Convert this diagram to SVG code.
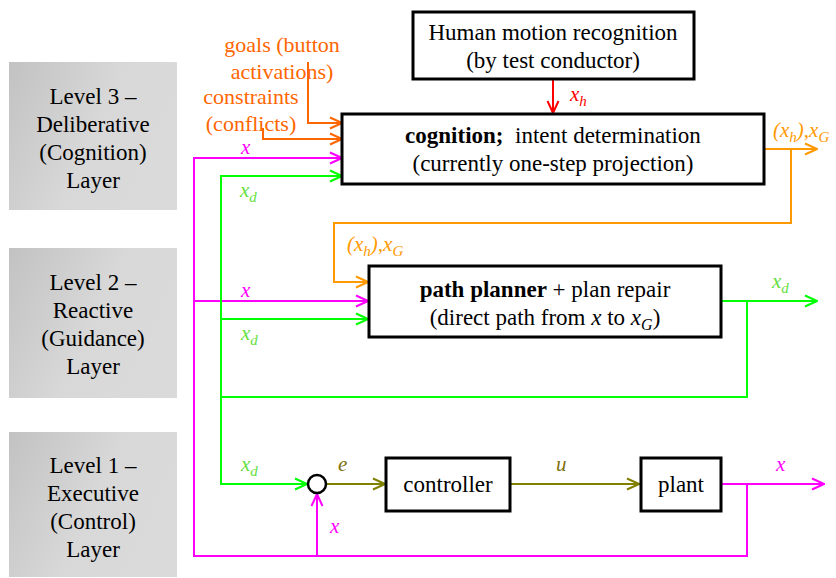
<svg xmlns="http://www.w3.org/2000/svg" width="836" height="578" viewBox="0 0 836 578" font-family="Times New Roman, Liberation Serif, Tinos, Noto Serif, serif">
<style>
text{font-family:"Times New Roman","Liberation Serif",Tinos,"Noto Serif",serif;}
.t{font-size:23px;fill:#000;text-anchor:middle;}
.box{fill:#fff;stroke:#000;stroke-width:3;}
.lay{fill:url(#g);}
.ln{fill:none;stroke-width:2;}
.lbl{font-size:21px;font-style:italic;}
.sub{font-size:15px;}
</style>
<defs>
<linearGradient id="g" x1="0" y1="0" x2="1" y2="0.4">
<stop offset="0" stop-color="#c2c2c2"/>
<stop offset="0.6" stop-color="#d8d8d8"/>
<stop offset="1" stop-color="#dadada"/>
</linearGradient>
<marker id="aO" markerUnits="userSpaceOnUse" markerWidth="14" markerHeight="14" viewBox="0 0 14 14" refX="13" refY="7" orient="auto"><path d="M1,1.5 L13,7 L1,12.5" fill="none" stroke="#ff6600" stroke-width="2"/></marker>
<marker id="aY" markerUnits="userSpaceOnUse" markerWidth="14" markerHeight="14" viewBox="0 0 14 14" refX="13" refY="7" orient="auto"><path d="M1,1.5 L13,7 L1,12.5" fill="none" stroke="#ff9900" stroke-width="2"/></marker>
<marker id="aM" markerUnits="userSpaceOnUse" markerWidth="14" markerHeight="14" viewBox="0 0 14 14" refX="13" refY="7" orient="auto"><path d="M1,1.5 L13,7 L1,12.5" fill="none" stroke="#ff00ff" stroke-width="2"/></marker>
<marker id="aG" markerUnits="userSpaceOnUse" markerWidth="14" markerHeight="14" viewBox="0 0 14 14" refX="13" refY="7" orient="auto"><path d="M1,1.5 L13,7 L1,12.5" fill="none" stroke="#00ff00" stroke-width="2"/></marker>
<marker id="aR" markerUnits="userSpaceOnUse" markerWidth="14" markerHeight="14" viewBox="0 0 14 14" refX="13" refY="7" orient="auto"><path d="M1,1.5 L13,7 L1,12.5" fill="none" stroke="#ff0000" stroke-width="2"/></marker>
<marker id="aL" markerUnits="userSpaceOnUse" markerWidth="14" markerHeight="14" viewBox="0 0 14 14" refX="13" refY="7" orient="auto"><path d="M1,1.5 L13,7 L1,12.5" fill="none" stroke="#808000" stroke-width="2"/></marker>
</defs>
<rect width="836" height="578" fill="#fff"/>

<g id="layer3">
<rect class="lay" x="9" y="62" width="168" height="148"/>
<text class="t" x="93" y="104">Level 3 –</text>
<text class="t" x="93" y="132">Deliberative</text>
<text class="t" x="93" y="160">(Cognition)</text>
<text class="t" x="93" y="188">Layer</text>
</g>
<g id="layer2">
<rect class="lay" x="9" y="248" width="168" height="150"/>
<text class="t" x="93" y="290">Level 2 –</text>
<text class="t" x="93" y="318">Reactive</text>
<text class="t" x="93" y="346">(Guidance)</text>
<text class="t" x="93" y="374">Layer</text>
</g>
<g id="layer1">
<rect class="lay" x="9" y="432" width="168" height="145"/>
<text class="t" x="93" y="473">Level 1 –</text>
<text class="t" x="93" y="501">Executive</text>
<text class="t" x="93" y="529">(Control)</text>
<text class="t" x="93" y="557">Layer</text>
</g>

<g id="connectors">
<polyline class="ln" stroke="#ff6600" points="308,62 308,123 342,123" marker-end="url(#aO)"/>
<polyline class="ln" stroke="#ff6600" points="263,128 263,139 342,139" marker-end="url(#aO)"/>
<line class="ln" stroke="#ff0000" x1="553" y1="79" x2="553" y2="113" marker-end="url(#aR)"/>
<polyline class="ln" stroke="#ff00ff" points="342,158 194,158 194,556 747,556 747,484"/>
<line class="ln" stroke="#ff00ff" x1="194" y1="158" x2="342" y2="158" marker-end="url(#aM)"/>
<line class="ln" stroke="#ff00ff" x1="194" y1="301" x2="368" y2="301" marker-end="url(#aM)"/>
<line class="ln" stroke="#ff00ff" x1="721" y1="484" x2="824" y2="484" marker-end="url(#aM)"/>
<line class="ln" stroke="#ff00ff" x1="317" y1="556" x2="317" y2="494" marker-end="url(#aM)"/>
<polyline class="ln" stroke="#00ff00" points="342,176 221,176 221,484 307,484" marker-end="url(#aG)"/>
<line class="ln" stroke="#00ff00" x1="221" y1="176" x2="342" y2="176" marker-end="url(#aG)"/>
<line class="ln" stroke="#00ff00" x1="221" y1="319" x2="368" y2="319" marker-end="url(#aG)"/>
<line class="ln" stroke="#00ff00" x1="722" y1="301" x2="817" y2="301" marker-end="url(#aG)"/>
<polyline class="ln" stroke="#00ff00" points="747,301 747,397 221,397"/>
<line class="ln" stroke="#ff9900" x1="764" y1="149" x2="817" y2="149" marker-end="url(#aY)"/>
<polyline class="ln" stroke="#ff9900" points="791,149 791,223 334,223 334,282 368,282" marker-end="url(#aY)"/>
<line class="ln" stroke="#808000" x1="326" y1="484" x2="385" y2="484" marker-end="url(#aL)"/>
<line class="ln" stroke="#808000" x1="511" y1="484" x2="639" y2="484" marker-end="url(#aL)"/>
</g>

<g id="human">
<rect class="box" x="413" y="12" width="281" height="67"/>
<text class="t" x="553" y="40">Human motion recognition</text>
<text class="t" x="553" y="68">(by test conductor)</text>
</g>
<g id="cognition">
<rect class="box" x="342" y="114" width="422" height="70"/>
<text class="t" x="553" y="143" xml:space="preserve"><tspan font-weight="bold">cognition;</tspan>  intent determination</text>
<text class="t" x="553" y="171">(currently one-step projection)</text>
</g>
<g id="planner">
<rect class="box" x="369" y="266" width="352" height="71"/>
<text class="t" x="545" y="297"><tspan font-weight="bold">path planner</tspan> + plan repair</text>
<text class="t" x="545" y="325">(direct path from <tspan font-style="italic">x</tspan> to <tspan font-style="italic">x</tspan><tspan font-style="italic" font-size="16" dy="5">G</tspan><tspan dy="-5">)</tspan></text>
</g>
<g id="sum">
<circle cx="317" cy="484" r="9" fill="#fff" stroke="#000" stroke-width="2.5"/>
</g>
<g id="controller">
<rect class="box" x="386" y="458" width="124" height="53"/>
<text class="t" x="448" y="492">controller</text>
</g>
<g id="plant">
<rect class="box" x="641" y="458" width="80" height="53"/>
<text class="t" x="681" y="492">plant</text>
</g>

<g id="labels">
<text x="282" y="52" font-size="22" fill="#ff6600" text-anchor="middle">goals (button</text>
<text x="282" y="79" font-size="22" fill="#ff6600" text-anchor="middle">activations)</text>
<text x="251" y="104" font-size="22" fill="#ff6600" text-anchor="middle">constraints</text>
<text x="251" y="131" font-size="22" fill="#ff6600" text-anchor="middle">(conflicts)</text>
<text class="lbl" x="570" y="101" fill="#ff0000">x<tspan class="sub" dy="5">h</tspan></text>
<text class="lbl" x="773" y="137" fill="#ff9900">(x<tspan class="sub" dy="5">h</tspan><tspan dy="-5">),x</tspan><tspan class="sub" dy="5">G</tspan></text>
<text class="lbl" x="347" y="251" fill="#ff9900">(x<tspan class="sub" dy="5">h</tspan><tspan dy="-5">),x</tspan><tspan class="sub" dy="5">G</tspan></text>
<text class="lbl" x="241" y="154" fill="#ff00ff">x</text>
<text class="lbl" x="240" y="197" fill="#66e040">x<tspan class="sub" dy="5">d</tspan></text>
<text class="lbl" x="241" y="297" fill="#ff00ff">x</text>
<text class="lbl" x="241" y="340" fill="#66e040">x<tspan class="sub" dy="5">d</tspan></text>
<text class="lbl" x="772" y="288" fill="#66e040">x<tspan class="sub" dy="5">d</tspan></text>
<text class="lbl" x="241" y="471" fill="#66e040">x<tspan class="sub" dy="5">d</tspan></text>
<text class="lbl" x="338" y="471" fill="#807010">e</text>
<text class="lbl" x="556" y="471" fill="#807010">u</text>
<text class="lbl" x="776" y="471" fill="#ff00ff">x</text>
<text class="lbl" x="330" y="533" fill="#ff00ff">x</text>
</g>
</svg>
